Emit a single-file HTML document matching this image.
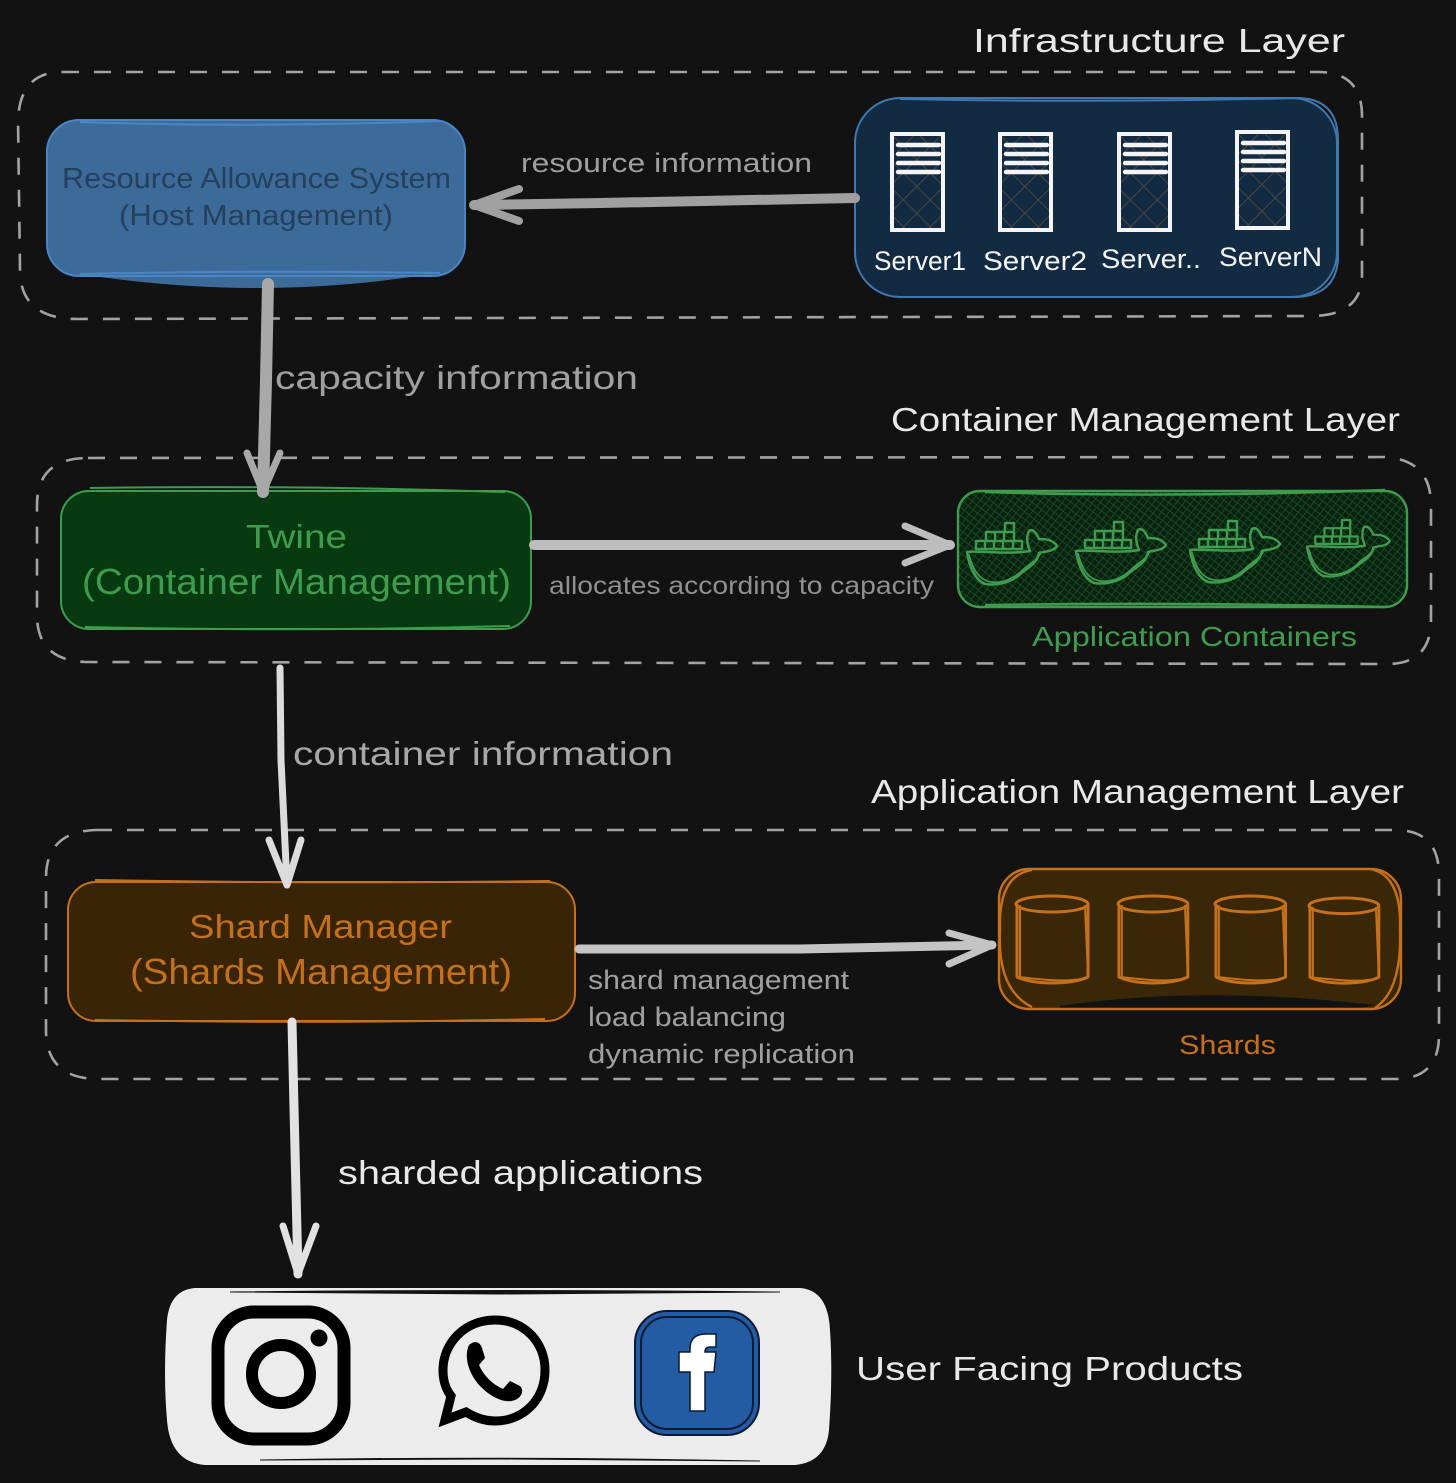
<!DOCTYPE html>
<html><head><meta charset="utf-8"><style>
html,body{margin:0;padding:0;background:#121212}
svg{display:block}
text{font-family:"Liberation Sans",sans-serif}
</style></head><body>
<svg width="1456" height="1483" viewBox="0 0 1456 1483" xmlns="http://www.w3.org/2000/svg">
<defs>
<pattern id="h" width="19" height="19" patternUnits="userSpaceOnUse" patternTransform="rotate(45)">
<path d="M0 0H19M0 0V19" stroke="#4b4640" stroke-width="2" fill="none"/>
</pattern>
<pattern id="g" width="6" height="6" patternUnits="userSpaceOnUse" patternTransform="rotate(38)">
<rect width="6" height="6" fill="#0d1f11"/>
<path d="M0 0H6M0 0V6" stroke="#0f5220" stroke-width="1.7" fill="none"/>
</pattern>
<g id="srv">
<rect x="2" y="2" width="51" height="96" fill="url(#h)"/>
<rect x="2" y="2" width="51" height="96" fill="none" stroke="#f4f4f4" stroke-width="4"/>
<path d="M8 13H49M8 22H49M8 31H49M8 40H49" stroke="#f4f4f4" stroke-width="4.4" stroke-linecap="round"/>
</g>
<g id="wh" fill="none" stroke="#3f9c4e" stroke-width="2.5" stroke-linejoin="round" stroke-linecap="round">
<path d="M0 30C10 28 40 33 63 29C60 22 59 15 62 9C66 6 70 12 72 17C80 17 86 18 90 24C86 30 78 29 72 31C70 42 60 46 52 53C44 60 30 64 18 62C8 58 2 44 0 30Z"/>
<path d="M2 33C6 48 12 58 24 60C38 62 50 54 58 46C64 41 70 38 73 32" stroke-width="1.8"/>
<path d="M9 19H55V27H9ZM18 19V27M27 19V27M36 19V27M46 19V27M19 10H47V19H19ZM28 10V19M37 10V19M38 1H47V10H38Z" stroke-width="2.4"/>
</g>
<g id="cyl" fill="none" stroke="#c5701b" stroke-width="3" stroke-linecap="round" stroke-linejoin="round">
<ellipse cx="37" cy="11" rx="36" ry="8"/>
<path d="M2 12V84C20 92 55 92 73 84V12"/>
<path d="M5 13V83M70 13L73 82M3 84C25 86 50 90 72 85" stroke-width="2"/>
</g>
</defs>
<rect width="1456" height="1483" fill="#121212"/>

<!-- dashed layers -->
<g fill="none" stroke="#a3a3a3" stroke-width="2.6" stroke-dasharray="17 15">
<path d="M62 72H1318Q1362 72 1362 116V275Q1362 316 1310 316L78 319Q20 319 20 270L18 120Q20 72 62 72Z"/>
<path d="M88 458L1385 457Q1431 460 1431 505V620Q1431 665 1385 664L85 662Q37 660 37 615V505Q37 458 88 458Z"/>
<path d="M95 830H1395Q1439 830 1439 875V1035Q1439 1079 1395 1079L95 1079Q46 1077 46 1030V878Q46 832 95 830Z"/>
</g>

<!-- blue box -->
<rect x="47" y="120" width="418" height="156" rx="32" fill="#3d6b99"/>
<path d="M80 274Q260 302 430 274Z" fill="#3d6b99"/>
<g fill="none" stroke="#4a86c5" stroke-width="2">
<rect x="47" y="120" width="418" height="156" rx="32"/>
<path d="M80 122Q260 128 440 121M80 274Q260 270 440 273"/>
</g>
<!-- server box -->
<rect x="855" y="98" width="482" height="199" rx="45" fill="#122b42"/>
<g fill="none" stroke="#3f78b0" stroke-width="2">
<rect x="855" y="98" width="482" height="199" rx="45"/>
<path d="M900 99Q1100 103 1300 98Q1338 100 1338 140V260Q1335 296 1295 297"/>
</g>
<use href="#srv" x="890" y="132"/>
<use href="#srv" x="998" y="132"/>
<use href="#srv" x="1117" y="132"/>
<use href="#srv" x="1235" y="130"/>

<!-- green box -->
<rect x="61" y="491" width="470" height="138" rx="28" fill="#073a10"/>
<g fill="none" stroke="#3f9c4e" stroke-width="2">
<rect x="61" y="491" width="470" height="138" rx="28"/>
<path d="M90 488Q300 485 505 492M85 627Q300 632 510 626"/>
</g>
<!-- containers box -->
<rect x="958" y="491" width="449" height="116" rx="22" fill="url(#g)"/>
<g fill="none" stroke="#3f9c4e" stroke-width="2.4">
<rect x="958" y="491" width="449" height="116" rx="22"/>
<path d="M985 492Q1180 498 1385 490M985 605Q1180 602 1385 607"/>
</g>
<use href="#wh" x="967" y="522"/>
<use href="#wh" x="1076" y="521"/>
<use href="#wh" x="1190" y="520"/>
<use href="#wh" transform="translate(1307 519) scale(.92)"/>

<!-- orange box -->
<rect x="68" y="882" width="507" height="139" rx="28" fill="#3a2406"/>
<g fill="none" stroke="#c5701b" stroke-width="2">
<rect x="68" y="882" width="507" height="139" rx="28"/>
<path d="M95 880Q320 884 550 881M95 1020Q320 1024 545 1019"/>
</g>
<!-- shards box -->
<rect x="999" y="869" width="402" height="140" rx="30" fill="#3a2708"/>
<path d="M1060 1006Q1200 985 1375 1005L1360 1008H1060Z" fill="#121212"/>
<g fill="none" stroke="#c5701b" stroke-width="2.4">
<rect x="999" y="869" width="402" height="140" rx="30"/>
<path d="M1032 870Q998 875 1000 930Q997 990 1032 1007M1370 869Q1402 875 1400 930Q1402 990 1375 1008"/>
</g>
<use href="#cyl" x="1015" y="893"/>
<use href="#cyl" transform="translate(1117 893) scale(.97 1)"/>
<use href="#cyl" transform="translate(1214 893) scale(.98 1)"/>
<use href="#cyl" transform="translate(1308 895) scale(.97 .98)"/>

<!-- white box -->
<path d="M195 1288H800Q828 1290 830 1330Q833 1375 829 1430Q826 1462 795 1465H205Q170 1462 167 1420Q163 1375 167 1320Q170 1290 195 1288Z" fill="#ececec"/>
<path d="M230 1292Q500 1289 780 1292L500 1294ZM260 1460Q500 1456 760 1461L500 1459Z" fill="#121212" stroke="#121212" stroke-width="1"/>
<!-- instagram -->
<rect x="218" y="1312" width="126" height="127" rx="36" fill="none" stroke="#000" stroke-width="13"/>
<circle cx="281" cy="1374" r="29" fill="none" stroke="#000" stroke-width="12"/>
<circle cx="319" cy="1338" r="8.5" fill="#000"/>
<!-- whatsapp -->
<path d="M495 1320C525 1320 545 1343 545 1370C545 1400 523 1421 495 1421C483 1421 474 1417 466 1412L445 1420L451 1396C445 1388 443 1380 443 1370C443 1343 465 1320 495 1320Z" fill="none" stroke="#000" stroke-width="9"/>
<path d="M469 1345C475 1340 480 1342 482 1348L485 1358L479 1365C484 1376 492 1384 503 1389L510 1381L520 1386C524 1390 522 1396 517 1399C507 1405 492 1398 481 1387C470 1376 463 1358 469 1345Z" fill="#000"/>
<!-- facebook -->
<rect x="635" y="1311" width="124" height="124" rx="32" fill="#235ca3" stroke="#0b1a33" stroke-width="2"/>
<rect x="641" y="1317" width="112" height="112" rx="26" fill="none" stroke="#0b1a33" stroke-width="2"/>
<path d="M690 1411V1372H679V1352H690V1349Q690 1334 706 1334H716V1347H710Q705 1347 705 1352H716L714 1372H705V1411Z" fill="#fff" stroke="#0b1a33" stroke-width="1.5"/>

<!-- arrows -->
<g fill="none" stroke-linecap="round" stroke-linejoin="round">
<g stroke="#a0a0a0" stroke-width="10">
<path d="M855 198L600 203L474 205"/><path d="M519 189L474 205L519 221" stroke-width="8"/>
</g>
<g stroke="#a8a8a8" stroke-width="12">
<path d="M268 284L266 380L263 492"/><path d="M247 453L263 492L280 453" stroke-width="7"/>
</g>
<g stroke="#bdbdbd" stroke-width="10">
<path d="M534 545L950 545"/><path d="M905 526L950 545L905 563" stroke-width="7"/>
</g>
<g stroke="#dcdcdc" stroke-width="7">
<path d="M280 668L281 760L287 885"/><path d="M269 840L287 885L301 840"/>
</g>
<g stroke="#c4c4c4" stroke-width="9">
<path d="M579 949L800 949L992 945"/><path d="M949 933L992 945L949 964" stroke-width="7"/>
</g>
<g stroke="#e2e2e2" stroke-width="9">
<path d="M292 1022L295 1150L298 1274"/><path d="M283 1226L298 1274L316 1226" stroke-width="7"/>
</g>
</g>

<!-- text -->
<text x="973" y="52" font-size="33" fill="#e8e8e8" textLength="372" lengthAdjust="spacingAndGlyphs">Infrastructure Layer</text>
<text x="521" y="172" font-size="27" fill="#a0a0a0" textLength="291" lengthAdjust="spacingAndGlyphs">resource information</text>
<text x="62" y="188" font-size="29" fill="#24405c" textLength="389" lengthAdjust="spacingAndGlyphs">Resource Allowance System</text>
<text x="119" y="225" font-size="29" fill="#24405c" textLength="274" lengthAdjust="spacingAndGlyphs">(Host Management)</text>
<text x="874" y="270" font-size="27" fill="#f4f4f4" textLength="92" lengthAdjust="spacingAndGlyphs">Server1</text>
<text x="983" y="270" font-size="27" fill="#f4f4f4" textLength="104" lengthAdjust="spacingAndGlyphs">Server2</text>
<text x="1101" y="268" font-size="27" fill="#f4f4f4" textLength="100" lengthAdjust="spacingAndGlyphs">Server..</text>
<text x="1219" y="266" font-size="27" fill="#f4f4f4" textLength="103" lengthAdjust="spacingAndGlyphs">ServerN</text>
<text x="275" y="389" font-size="33" fill="#a0a0a0" textLength="363" lengthAdjust="spacingAndGlyphs">capacity information</text>
<text x="891" y="431" font-size="33" fill="#e8e8e8" textLength="509" lengthAdjust="spacingAndGlyphs">Container Management Layer</text>
<text x="246" y="548" font-size="33" fill="#3f9c4e" textLength="101" lengthAdjust="spacingAndGlyphs">Twine</text>
<text x="82" y="594" font-size="36" fill="#3f9c4e" textLength="429" lengthAdjust="spacingAndGlyphs">(Container Management)</text>
<text x="549" y="594" font-size="25" fill="#909090" textLength="385" lengthAdjust="spacingAndGlyphs">allocates according to capacity</text>
<text x="1032" y="646" font-size="28" fill="#3f9c4e" textLength="325" lengthAdjust="spacingAndGlyphs">Application Containers</text>
<text x="293" y="765" font-size="33" fill="#a8a8a8" textLength="380" lengthAdjust="spacingAndGlyphs">container information</text>
<text x="871" y="803" font-size="33" fill="#e8e8e8" textLength="533" lengthAdjust="spacingAndGlyphs">Application Management Layer</text>
<text x="189" y="938" font-size="33" fill="#c5701b" textLength="263" lengthAdjust="spacingAndGlyphs">Shard Manager</text>
<text x="130" y="984" font-size="36" fill="#c5701b" textLength="382" lengthAdjust="spacingAndGlyphs">(Shards Management)</text>
<text x="588" y="989" font-size="27" fill="#a0a0a0" textLength="261" lengthAdjust="spacingAndGlyphs">shard management</text>
<text x="588" y="1026" font-size="27" fill="#a0a0a0" textLength="198" lengthAdjust="spacingAndGlyphs">load balancing</text>
<text x="588" y="1063" font-size="27" fill="#a0a0a0" textLength="267" lengthAdjust="spacingAndGlyphs">dynamic replication</text>
<text x="1179" y="1054" font-size="27" fill="#c5701b" textLength="97" lengthAdjust="spacingAndGlyphs">Shards</text>
<text x="338" y="1184" font-size="33" fill="#e8e8e8" textLength="365" lengthAdjust="spacingAndGlyphs">sharded applications</text>
<text x="856" y="1380" font-size="33" fill="#e8e8e8" textLength="387" lengthAdjust="spacingAndGlyphs">User Facing Products</text>
</svg>
</body></html>
